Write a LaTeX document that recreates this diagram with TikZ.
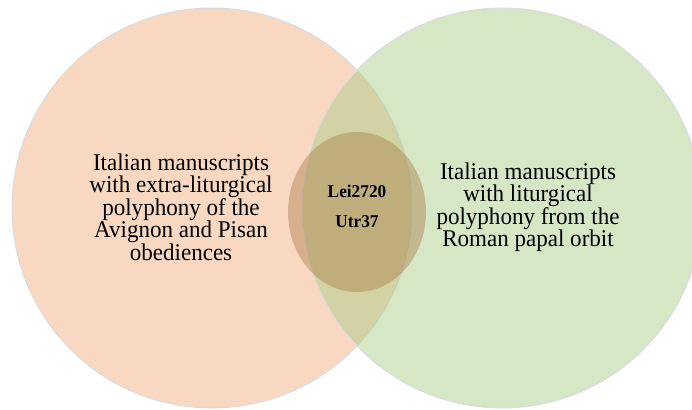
\documentclass[tikz,border=0pt]{standalone}
\usepackage{fontspec}
\setmainfont{Liberation Serif}[FakeStretch=0.96]
\usepackage{tikz}
\definecolor{peach}{RGB}{249,216,193}
\definecolor{sage}{RGB}{168,205,134}
\definecolor{umber}{RGB}{172,128,77}
\definecolor{rim}{RGB}{218,220,224}
\tikzset{
    every node/.style={align=center,},
    setcircle/.style={draw=rim,line width=1pt,},
    settext/.style={font=\fontsize{24}{22.5}\selectfont,},
    coretext/.style={font=\bfseries\fontsize{18}{30}\selectfont,},
}

\begin{document}
\begin{tikzpicture}[x=1pt,y=1pt]
    \useasboundingbox (0,0) rectangle (692,409);

    \draw[setcircle, fill=peach] (212,201) circle[radius=200];
    \draw[setcircle, fill=sage, fill opacity=0.48] (502,201) circle[radius=200];
    \fill[umber, fill opacity=0.45] (357,197) ellipse[x radius=69, y radius=80];

    \node[settext] (avignon) at (181,202) {Italian manuscripts\\with extra-liturgical\\polyphony of the\\Avignon and Pisan\\obediences};
    \node[settext] (roman) at (528,202) {Italian manuscripts\\with liturgical\\polyphony from the\\Roman papal orbit};

    \node[coretext] (shared) at (357,203) {Lei2720\\Utr37};
\end{tikzpicture}
\end{document}
